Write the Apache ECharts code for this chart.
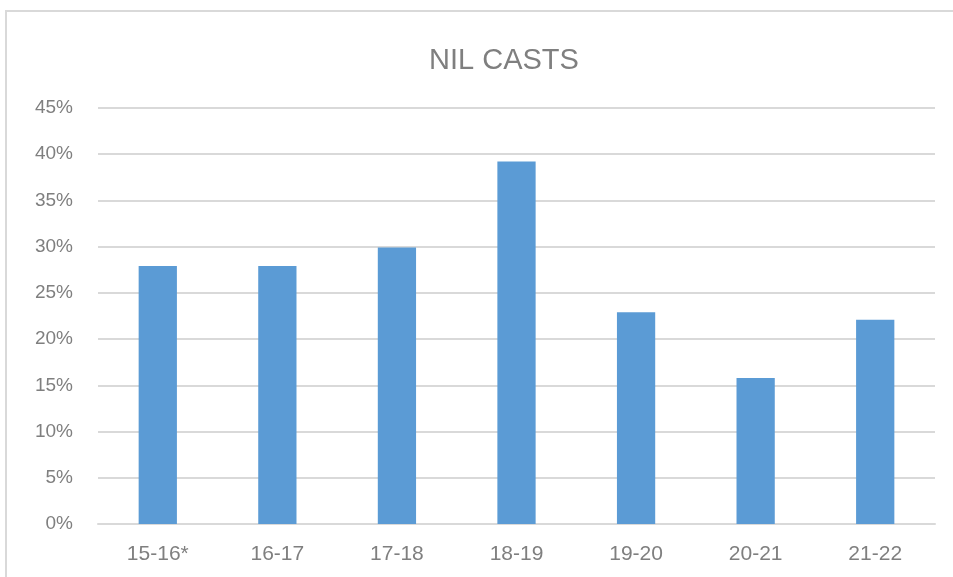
<!DOCTYPE html>
<html>
<head>
<meta charset="utf-8">
<script src="https://cdn.jsdelivr.net/npm/echarts@6/dist/echarts.min.js"></script>
<style>
  html, body { margin: 0; padding: 0; background: #fff; }
  #chart { width: 953px; height: 577px; }
</style>
</head>
<body>
<div id="chart"></div>
<script>
// seasons
const seasons = ["15-16*", "16-17", "17-18", "18-19", "19-20", "20-21", "21-22"];
// share of nil casts (%)
const nilCasts = [27.9, 27.9, 29.9, 39.2, 22.9, 15.8, 22.1];
// y axis ticks
const yMin = 0;
const yMax = 45;
const yStep = 5;

const chart = echarts.init(document.getElementById("chart"));

const option = {
  backgroundColor: "#fff",
  animation: false,
  textStyle: { fontFamily: "Liberation Sans, Arial, sans-serif" },
  // outer chart frame (runs off the right and bottom edges)
  graphic: [
    {
      type: "rect",
      shape: { x: 6, y: 11, width: 1000, height: 1000 },
      style: { fill: "none", stroke: "#d9d9d9", lineWidth: 2 },
      silent: true
    }
  ],
  title: {
    text: "NIL CASTS",
    left: 424,
    top: 41,
    textStyle: {
      color: "#7f7f7f",
      fontSize: 29,
      fontWeight: "normal",
      fontFamily: "Liberation Sans, Arial, sans-serif"
    }
  },
  grid: {
    left: 98,
    right: 18,
    top: 108,
    bottom: 53
  },
  xAxis: {
    type: "category",
    data: seasons,
    axisLine: { show: true, lineStyle: { color: "#d9d9d9", width: 2 } },
    axisTick: { show: false },
    axisLabel: {
      color: "#7f7f7f",
      fontSize: 21,
      margin: 20
    }
  },
  yAxis: {
    type: "value",
    min: yMin,
    max: yMax,
    interval: yStep,
    axisLine: { show: false },
    axisTick: { show: false },
    splitLine: { lineStyle: { color: "#d9d9d9", width: 2 } },
    axisLabel: {
      color: "#7f7f7f",
      fontSize: 19,
      margin: 25,
      formatter: v => v + "%"
    }
  },
  series: [
    {
      type: "bar",
      data: nilCasts,
      barWidth: "32%",
      itemStyle: { color: "#5b9bd5" }
    }
  ]
};

chart.setOption(option);
</script>
</body>
</html>
